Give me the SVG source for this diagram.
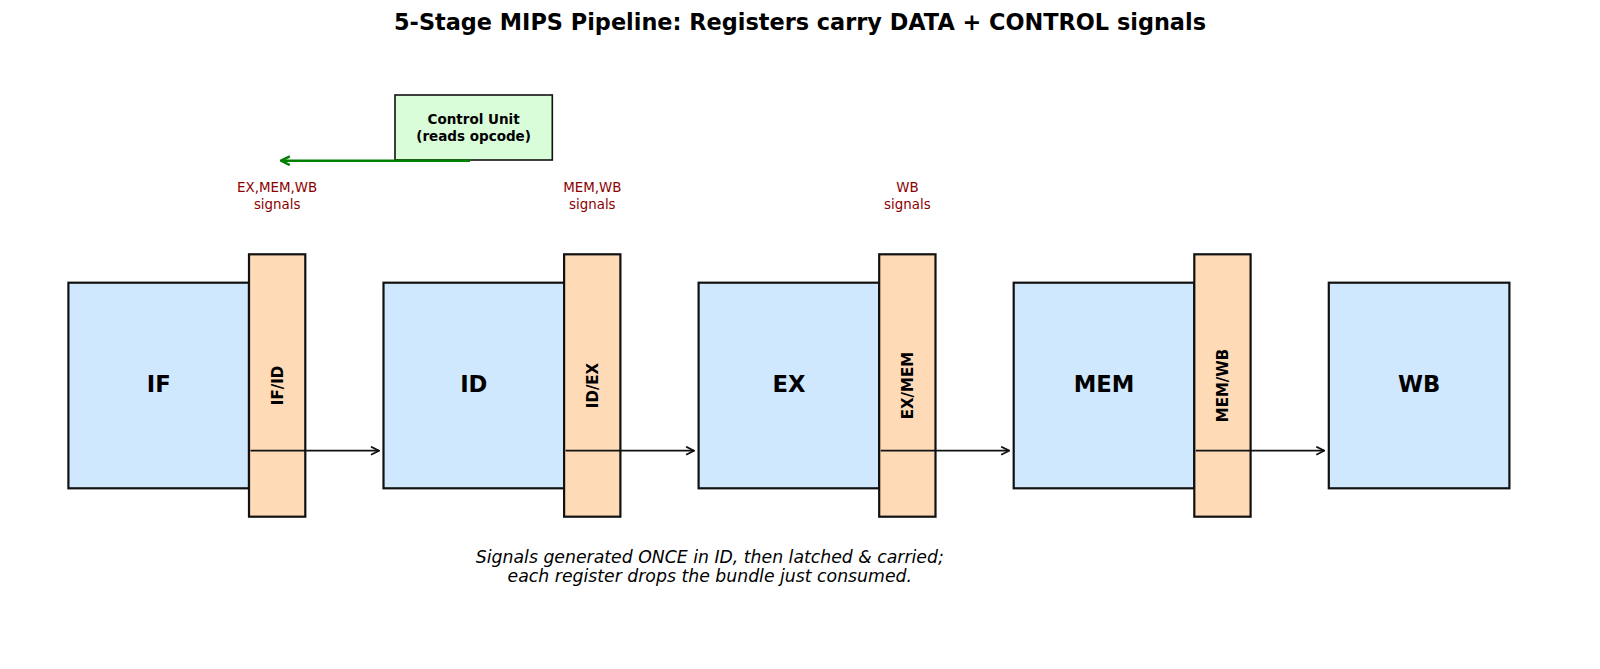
<svg xmlns="http://www.w3.org/2000/svg" width="1600" height="669" viewBox="0 0 1600 669">
<defs>
<style>
.stage{fill:#d0e8fe;stroke:#111;stroke-width:2.2}
.reg{fill:#fedab7;stroke:#111;stroke-width:2.2}
.cu{fill:#d9fdd9;stroke:#111;stroke-width:1.6}
.st{font-family:"DejaVu Sans",sans-serif;font-weight:bold;font-size:22.7px;fill:#000;text-anchor:middle}
.rt{font-family:"DejaVu Sans",sans-serif;font-weight:bold;font-size:15px;fill:#000;text-anchor:middle}
.sig{font-family:"DejaVu Sans",sans-serif;font-size:13.4px;fill:#8b0000;text-anchor:middle}
.cut{font-family:"DejaVu Sans",sans-serif;font-weight:bold;font-size:13.5px;fill:#000;text-anchor:middle}
.title{font-family:"DejaVu Sans",sans-serif;font-weight:bold;font-size:22.4px;fill:#000;text-anchor:middle}
.note{font-family:"DejaVu Sans",sans-serif;font-style:italic;font-size:17.3px;fill:#000;text-anchor:middle}
.flow{stroke:#111;stroke-width:1.8;fill:none}
.ctl{stroke:#008000;stroke-width:2.4;fill:none}
</style>
<marker id="ah" viewBox="0 0 10 10" refX="9" refY="5" markerWidth="10" markerHeight="10" markerUnits="userSpaceOnUse" orient="auto">
<path d="M1,1 L9,5 L1,9" fill="none" stroke="#111" stroke-width="1.8"/>
</marker>
<marker id="ahg" viewBox="0 0 10 10" refX="9" refY="5" markerWidth="11" markerHeight="11" markerUnits="userSpaceOnUse" orient="auto">
<path d="M1,1 L9,5 L1,9" fill="none" stroke="#008000" stroke-width="2.2"/>
</marker>
</defs>
<rect width="1600" height="669" fill="#fff"/>
<text class="title" x="800" y="30">5-Stage MIPS Pipeline: Registers carry DATA + CONTROL signals</text>

<g id="stage-IF"><rect class="stage" x="68.4" y="282.7" width="180.6" height="205.6"/><text class="st" x="158.7" y="391.5">IF</text></g>
<g id="stage-ID"><rect class="stage" x="383.5" y="282.7" width="180.6" height="205.6"/><text class="st" x="473.8" y="391.5">ID</text></g>
<g id="stage-EX"><rect class="stage" x="698.6" y="282.7" width="180.6" height="205.6"/><text class="st" x="788.9" y="391.5">EX</text></g>
<g id="stage-MEM"><rect class="stage" x="1013.7" y="282.7" width="180.6" height="205.6"/><text class="st" x="1104" y="391.5">MEM</text></g>
<g id="stage-WB"><rect class="stage" x="1328.8" y="282.7" width="180.6" height="205.6"/><text class="st" x="1419.1" y="391.5">WB</text></g>

<g id="reg-IFID"><rect class="reg" x="249" y="254.3" width="56.3" height="262.4"/><text class="rt" transform="translate(282.8,385.5) rotate(-90)">IF/ID</text></g>
<g id="reg-IDEX"><rect class="reg" x="564.1" y="254.3" width="56.3" height="262.4"/><text class="rt" transform="translate(597.9,385.5) rotate(-90)">ID/EX</text></g>
<g id="reg-EXMEM"><rect class="reg" x="879.2" y="254.3" width="56.3" height="262.4"/><text class="rt" transform="translate(913,385.5) rotate(-90)">EX/MEM</text></g>
<g id="reg-MEMWB"><rect class="reg" x="1194.3" y="254.3" width="56.3" height="262.4"/><text class="rt" transform="translate(1228.1,385.5) rotate(-90)">MEM/WB</text></g>

<g id="control-unit"><rect class="cu" x="395" y="95" width="157.3" height="65"/><text class="cut" x="473.6" y="124">Control Unit</text><text class="cut" x="473.6" y="141">(reads opcode)</text></g>

<g id="signal-labels">
<text class="sig" x="277.2" y="191.5">EX,MEM,WB</text><text class="sig" x="277.2" y="208.5">signals</text>
<text class="sig" x="592.3" y="191.5">MEM,WB</text><text class="sig" x="592.3" y="208.5">signals</text>
<text class="sig" x="907.4" y="191.5">WB</text><text class="sig" x="907.4" y="208.5">signals</text>
</g>

<g id="connectors">
<line class="flow" x1="250.5" y1="450.7" x2="379" y2="450.7" marker-end="url(#ah)"/>
<line class="flow" x1="565.6" y1="450.7" x2="694.1" y2="450.7" marker-end="url(#ah)"/>
<line class="flow" x1="880.7" y1="450.7" x2="1009.2" y2="450.7" marker-end="url(#ah)"/>
<line class="flow" x1="1195.8" y1="450.7" x2="1324.3" y2="450.7" marker-end="url(#ah)"/>
<line class="ctl" x1="470" y1="160.7" x2="281" y2="160.7" marker-end="url(#ahg)"/>
</g>

<text class="note" x="709.8" y="562.5">Signals generated ONCE in ID, then latched &amp; carried;</text>
<text class="note" x="709.8" y="582">each register drops the bundle just consumed.</text>
</svg>
